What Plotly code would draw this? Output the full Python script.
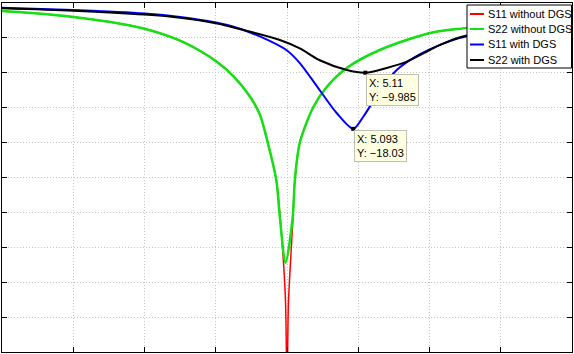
import plotly.graph_objects as go

# ---- data (frequency in GHz, magnitude in dB) ----
s11_wo_x = [4.60, 4.65, 4.70, 4.75, 4.80, 4.85, 4.875, 4.900, 4.925, 4.948, 4.962, 4.973, 4.985,
            4.991, 4.995, 4.998, 5.000, 5.002, 5.005, 5.008, 5.011, 5.018, 5.037, 5.056, 5.084,
            5.131, 5.201, 5.25, 5.30, 5.35, 5.40]
s11_wo_y = [-1.15, -1.5, -2.0, -2.7, -3.7, -5.4, -6.7, -8.3, -10.5, -13.4, -16.0, -20.0, -25.4,
            -31.5, -37.0, -43.0, -55.0, -43.0, -37.0, -31.5, -25.4, -20.0, -14.9, -12.0, -9.3,
            -6.7, -4.3, -3.6, -3.0, -2.4, -1.8]

s22_wo_x = [4.60, 4.65, 4.70, 4.75, 4.80, 4.85, 4.875, 4.900, 4.925, 4.948, 4.962, 4.973, 4.985,
            4.990, 4.998, 5.008, 5.011, 5.018, 5.037, 5.056, 5.084, 5.131, 5.201, 5.25, 5.30,
            5.35, 5.40]
s22_wo_y = [-1.15, -1.5, -2.0, -2.7, -3.7, -5.4, -6.7, -8.3, -10.5, -13.4, -16.0, -20.0, -25.4,
            -30.7, -37.2, -30.7, -25.4, -20.0, -14.9, -12.0, -9.3, -6.7, -4.3, -3.6, -3.0,
            -2.4, -1.8]

s11_dgs_x = [4.60, 4.70, 4.80, 4.85, 4.90, 4.925, 4.95, 4.975, 5.00, 5.018, 5.046, 5.070, 5.093,
             5.107, 5.131, 5.154, 5.177, 5.201, 5.243, 5.30, 5.35, 5.40]
s11_dgs_y = [-0.67, -1.0, -1.5, -2.0, -2.8, -3.4, -4.3, -5.4, -6.8, -8.6, -12.5, -15.8, -18.03,
             -16.3, -12.5, -9.6, -7.9, -6.6, -5.0, -3.8, -3.0, -2.3]

s22_dgs_x = [4.60, 4.70, 4.80, 4.85, 4.90, 4.95, 4.99, 5.018, 5.046, 5.084, 5.110,
             5.140, 5.168, 5.201, 5.215, 5.243, 5.30, 5.35, 5.40]
s22_dgs_y = [-0.75, -1.1, -1.65, -2.1, -2.9, -4.15, -5.3, -6.5, -8.2, -9.6, -9.985,
             -9.3, -8.4, -6.7, -6.0, -4.9, -3.6, -2.9, -2.3]

names = ["S11 without DGS", "S22 without DGS", "S11 with DGS", "S22 with DGS"]
colors = ["#ff0000", "rgb(20,225,20)", "#0000ff", "#000000"]
widths = [1.5, 2.5, 2.0, 2.0]

tip_x = [5.11, 5.093]
tip_y = [-9.985, -18.03]

series = [(s11_wo_x, s11_wo_y), (s22_wo_x, s22_wo_y), (s11_dgs_x, s11_dgs_y), (s22_dgs_x, s22_dgs_y)]

fig = go.Figure()
for (xs, ys), n, c, w in zip(series, names, colors, widths):
    fig.add_trace(go.Scatter(x=xs, y=ys, mode="lines", name=n,
                             line=dict(color=c, width=w, shape="spline", smoothing=0.8),
                             showlegend=False))

fig.add_trace(go.Scatter(x=tip_x, y=tip_y, mode="markers", showlegend=False,
                         marker=dict(symbol="square", size=4, color="black")))

for tx, ty in zip(tip_x, tip_y):
    fig.add_annotation(x=tx, y=ty, xref="x", yref="y", showarrow=False,
                       xanchor="left", yanchor="top", xshift=1, yshift=-1, align="left",
                       text=f"X: {tx:g}<br>Y: {ty:g}".replace("-", "\u2212"),
                       font=dict(family="Liberation Sans", size=11, color="black"),
                       bgcolor="#ffffe1", bordercolor="#c0c0b0", borderwidth=1, borderpad=2)

# ---- custom legend (pixel layout -> paper coords) ----
W, H = 574, 354
ML, MR, MT, MB = 2, 2, 3, 2
PW, PH = W - ML - MR, H - MT - MB


def px(xp):
    return (xp - ML) / PW


def py(yp):
    return 1 - (yp - MT) / PH


fig.add_shape(type="rect", xref="paper", yref="paper",
              x0=px(467), x1=px(571.5), y0=py(68), y1=py(5),
              fillcolor="white", line=dict(color="black", width=1), layer="above")
rows = [14, 29, 44.5, 60]
for n, c, r in zip(names, colors, rows):
    fig.add_shape(type="line", xref="paper", yref="paper",
                  x0=px(470), x1=px(484), y0=py(r), y1=py(r),
                  line=dict(color=c, width=2), layer="above")
    fig.add_annotation(x=px(486), y=py(r), xref="paper", yref="paper", showarrow=False,
                       xanchor="left", yanchor="middle", text=n,
                       font=dict(family="Liberation Sans", size=11, color="black"))

axis_common = dict(showticklabels=False, ticks="inside", ticklen=5, tickcolor="black",
                   showline=True, linecolor="black", linewidth=1, mirror="ticks",
                   showgrid=True, gridcolor="#c4c4c4", griddash="1px,2px", gridwidth=1,
                   zeroline=False)

fig.update_xaxes(range=[4.6, 5.4], tick0=4.6, dtick=0.1, **axis_common)
fig.update_yaxes(range=[-50, 0], tick0=-50, dtick=5, **axis_common)

fig.update_layout(width=W, height=H, margin=dict(l=ML, r=MR, t=MT, b=MB),
                  paper_bgcolor="white", plot_bgcolor="white",
                  font=dict(family="Liberation Sans"))

fig.write_html("out.html")
